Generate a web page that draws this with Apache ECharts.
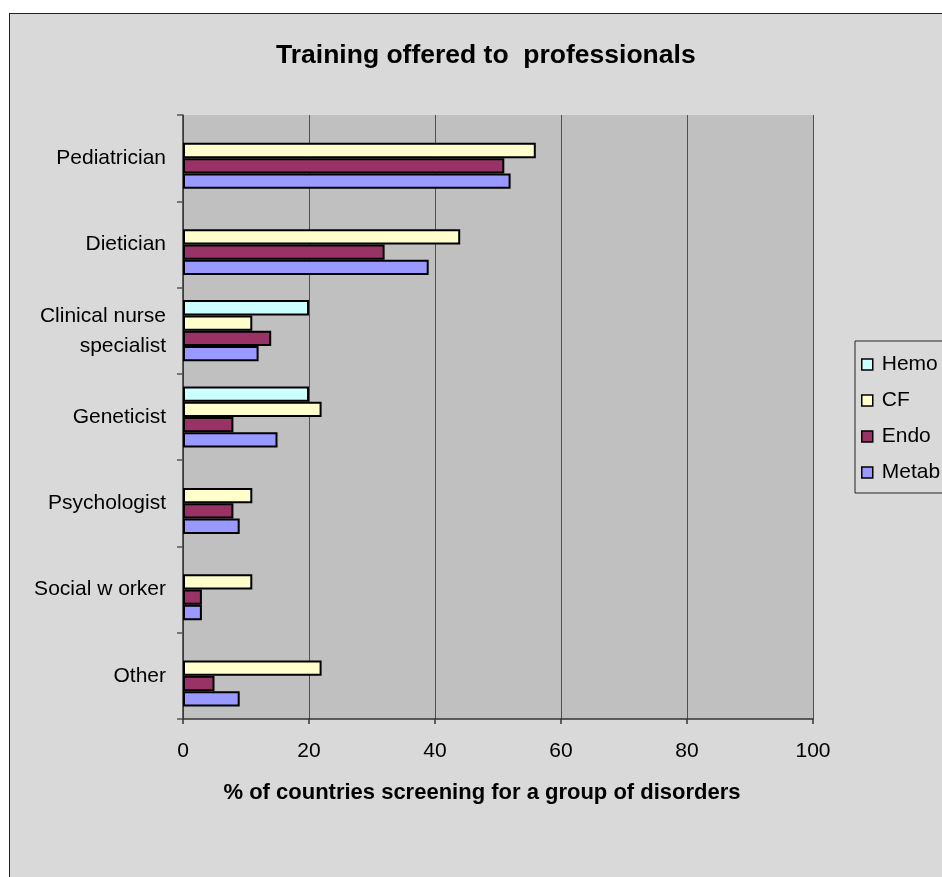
<!DOCTYPE html>
<html>
<head>
<meta charset="utf-8">
<script src="https://cdn.jsdelivr.net/npm/echarts@6/dist/echarts.min.js"></script>
<style>
  html, body { margin: 0; padding: 0; width: 942px; height: 877px; overflow: hidden; background: #ffffff; }
  #frame { position: absolute; left: 9px; top: 13px; width: 1000px; height: 1000px;
           background: #D9D9D9; border: 1px solid #222; }
  #chart { position: absolute; left: 0; top: 0; width: 942px; height: 877px; }
</style>
</head>
<body>
<div id="frame"></div>
<div id="chart"></div>
<script>
// Professions that received training
const categories = ['Pediatrician', 'Dietician', 'Clinical nurse\nspecialist', 'Geneticist',
                    'Psychologist', 'Social w orker', 'Other'];
// % of countries screening for each group of disorders
const hemo  = [null, null, 20, 20, null, null, null];
const cf    = [56, 44, 11, 22, 11, 11, 22];
const endo  = [51, 32, 14, 8, 8, 3, 5];
const metab = [52, 39, 12, 15, 9, 3, 9];
const xTicks = [0, 20, 40, 60, 80, 100];

const seriesNames  = ['Hemo', 'CF', 'Endo', 'Metab'];
const seriesData   = [hemo, cf, endo, metab];
const seriesColors = ['#CCFFFF', '#FFFFCC', '#993366', '#9999FF'];

const FONT = 'Liberation Sans, Arial, sans-serif';

const chart = echarts.init(document.getElementById('chart'), null, { renderer: 'canvas' });

chart.setOption({
  backgroundColor: 'transparent',
  animation: false,
  title: {
    text: 'Training offered to  professionals',
    left: 271,
    top: 37,
    textStyle: { fontFamily: FONT, fontSize: 26.5, fontWeight: 'bold', color: '#000' }
  },
  legend: {
    data: seriesNames,
    orient: 'vertical',
    left: 855,
    top: 341,
    icon: 'rect',
    itemWidth: 11,
    itemHeight: 11,
    itemGap: 15,
    padding: [13, 10, 10, 6],
    backgroundColor: '#D9D9D9',
    borderColor: '#222',
    borderWidth: 1,
    borderRadius: 0,
    textStyle: { fontFamily: FONT, fontSize: 21, color: '#000', lineHeight: 21, padding: [0, 0, 0, 4] },
    itemStyle: { borderColor: '#000', borderWidth: 1.5 }
  },
  grid: {
    left: 183, top: 115, right: 129, bottom: 158,
    show: true, backgroundColor: '#C0C0C0', borderWidth: 0
  },
  xAxis: {
    type: 'value',
    min: 0, max: 100, interval: 20,
    name: '% of countries screening for a group of disorders',
    nameLocation: 'middle',
    nameGap: 63,
    nameTextStyle: { fontFamily: FONT, fontSize: 22, fontWeight: 'bold', color: '#000', padding: [0, 32, 0, 0] },
    axisLine: { show: true, lineStyle: { color: '#333', width: 1.5 } },
    axisTick: { show: true, length: 5, lineStyle: { color: '#333', width: 1.5 } },
    axisLabel: {
      fontFamily: FONT, fontSize: 21, color: '#000', margin: 22,
      formatter: v => xTicks.includes(v) ? String(v) : ''
    },
    splitLine: { show: true, lineStyle: { color: '#505050', width: 1 } }
  },
  yAxis: {
    type: 'category',
    data: categories,
    inverse: true,
    axisLine: { show: true, lineStyle: { color: '#333', width: 1.5 } },
    axisTick: { show: true, length: 6, lineStyle: { color: '#555', width: 1.5 } },
    axisLabel: { fontFamily: FONT, fontSize: 21, color: '#000', margin: 17, lineHeight: 30, align: 'right' },
    splitLine: { show: false }
  },
  series: seriesNames.map((name, i) => ({
    name,
    type: 'bar',
    data: seriesData[i],
    barWidth: 15.3,
    barGap: '0%',
    itemStyle: { color: seriesColors[i], borderColor: '#000', borderWidth: 2 }
  }))
});
</script>
</body>
</html>
